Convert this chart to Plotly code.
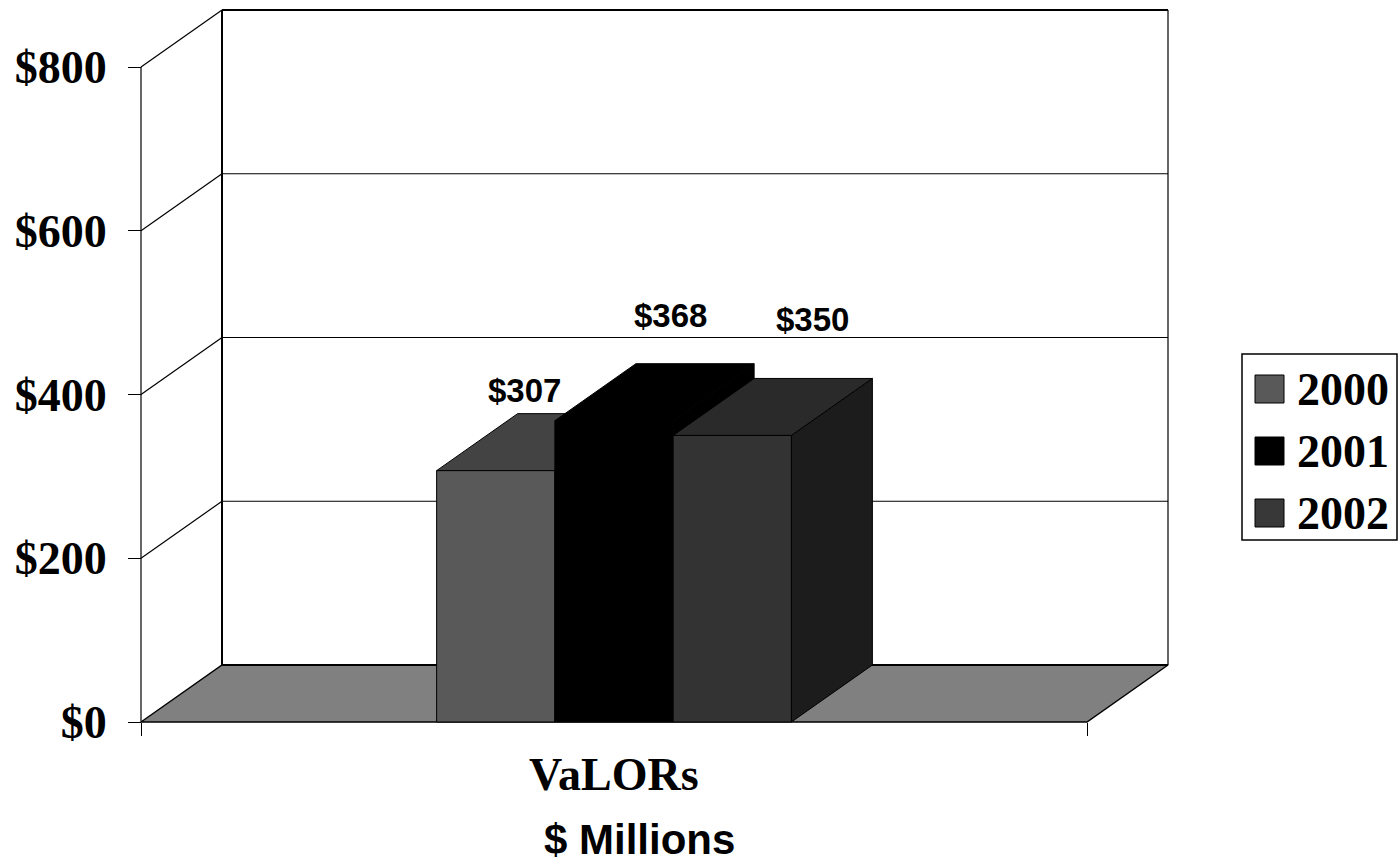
import plotly.graph_objects as go

# ---------------- data ----------------
categories = ["VaLORs"]
years = ["2000", "2001", "2002"]
values = [307, 368, 350]
value_labels = ["$307", "$368", "$350"]
tick_values = [0, 200, 400, 600, 800]
tick_labels = ["$0", "$200", "$400", "$600", "$800"]
axis_title = "$ Millions"

# ---------------- style ----------------
front_colors = ["#595959", "#000000", "#333333"]
top_colors = ["#434343", "#000000", "#2a2a2a"]
side_colors = ["#303030", "#000000", "#1c1c1c"]
legend_colors = ["#595959", "#000000", "#383838"]
floor_color = "#808080"
SERIF = "Liberation Serif, Times New Roman, serif"
SANS = "Liberation Sans, Arial, sans-serif"

W, H = 1399, 865
# pixel geometry of the reference
X_FRONT_L, X_FRONT_R = 141, 1087
Y_ZERO, Y_TOP_TICK = 722, 67
DEPTH_PX_X, DEPTH_PX_Y = 81, 57
PLOT_L, PLOT_R, PLOT_T, PLOT_B = 137, 1172, 6, 726

ppu_y = (Y_ZERO - Y_TOP_TICK) / tick_values[-1]
ppu_x = X_FRONT_R - X_FRONT_L  # one category spans the front axis
dx = DEPTH_PX_X / ppu_x
dy = DEPTH_PX_Y / ppu_y
x_range = [-0.5 - (X_FRONT_L - PLOT_L) / ppu_x, -0.5 + (PLOT_R - X_FRONT_L) / ppu_x]
y_range = [-(PLOT_B - Y_ZERO) / ppu_y, (Y_ZERO - PLOT_T) / ppu_y]
plot_w = PLOT_R - PLOT_L
plot_h = PLOT_B - PLOT_T


def px_x(p):
    return (p - PLOT_L) / plot_w


def px_y(p):
    return (PLOT_B - p) / plot_h


fig = go.Figure()


def poly(xs, ys, fill, lw=1):
    fig.add_trace(go.Scatter(
        x=list(xs) + [xs[0]], y=list(ys) + [ys[0]], mode="lines",
        fill="toself", fillcolor=fill, line=dict(color="black", width=lw),
        hoverinfo="skip", showlegend=False))


def seg(x0, y0, x1, y1, lw=1):
    fig.add_trace(go.Scatter(
        x=[x0, x1], y=[y0, y1], mode="lines",
        line=dict(color="black", width=lw), hoverinfo="skip", showlegend=False))


xl_cat, xr_cat = -0.5, 0.5
vmax = tick_values[-1]

# walls: back gridlines and left-wall diagonals
for v in tick_values[1:]:
    seg(xl_cat + dx, v + dy, xr_cat + dx, v + dy, 2 if v == vmax else 1.2)
    seg(xl_cat, v, xl_cat + dx, v + dy, 1.2)
seg(xl_cat + dx, dy, xl_cat + dx, vmax + dy, 2)
seg(xr_cat + dx, dy, xr_cat + dx, vmax + dy, 1.2)
seg(xl_cat, 0, xl_cat, vmax, 1.2)

# floor
poly([xl_cat, xr_cat, xr_cat + dx, xl_cat + dx], [0, 0, dy, dy], floor_color, 1.5)
seg(xl_cat + dx, dy, xr_cat + dx, dy, 2)

# bars (painter's order, left to right)
bar_w = 0.125
n = len(values)
group_left = -bar_w * n / 2
for i, v in enumerate(values):
    xl = group_left + i * bar_w
    xr = xl + bar_w
    poly([xr, xr + dx, xr + dx, xr], [0, dy, v + dy, v], side_colors[i])
    poly([xl, xr, xr + dx, xl + dx], [v, v, v + dy, v + dy], top_colors[i])
    poly([xl, xr, xr, xl], [0, 0, v, v], front_colors[i])

annotations = []
# value labels (Excel 3-D placement offsets in px)
label_dx = [29, 56, 80]
label_dy = [80, 105, 116]
for i, v in enumerate(values):
    xc = group_left + i * bar_w + bar_w / 2
    annotations.append(dict(
        x=xc, y=v, xref="x", yref="y", text="<b>%s</b>" % value_labels[i], showarrow=False,
        xshift=label_dx[i], yshift=label_dy[i], xanchor="center", yanchor="middle",
        font=dict(family=SANS, size=33, color="black")))

# category label and axis title
annotations.append(dict(
    x=0, y=px_y(774), xref="x", yref="paper", text="<b>%s</b>" % categories[0],
    showarrow=False, xanchor="center", yanchor="middle",
    font=dict(family=SERIF, size=46, color="black")))
annotations.append(dict(
    x=px_x(639), y=px_y(840), xref="paper", yref="paper", text="<b>%s</b>" % axis_title,
    showarrow=False, xanchor="center", yanchor="middle",
    font=dict(family=SANS, size=42, color="black")))

# legend (drawn manually)
shapes = [dict(type="rect", xref="paper", yref="paper",
               x0=px_x(1242), x1=px_x(1397), y0=px_y(540), y1=px_y(354),
               line=dict(color="black", width=1.5), fillcolor="white")]
row_y = [389, 451, 513]
for i, yr in enumerate(years):
    shapes.append(dict(type="rect", xref="paper", yref="paper",
                       x0=px_x(1255), x1=px_x(1284), y0=px_y(row_y[i] + 14), y1=px_y(row_y[i] - 14),
                       line=dict(color="black", width=1), fillcolor=legend_colors[i]))
    annotations.append(dict(
        x=px_x(1295), y=px_y(row_y[i]), xref="paper", yref="paper", text="<b>%s</b>" % yr,
        showarrow=False, xanchor="left", yanchor="middle",
        font=dict(family=SERIF, size=46, color="black")))

fig.update_layout(
    width=W, height=H,
    margin=dict(l=PLOT_L, r=W - PLOT_R, t=PLOT_T, b=H - PLOT_B, pad=0),
    paper_bgcolor="white", plot_bgcolor="white",
    showlegend=False,
    shapes=shapes, annotations=annotations,
    xaxis=dict(range=x_range, showgrid=False, zeroline=False, showline=False,
               tickvals=[xl_cat, xr_cat], ticktext=["", ""], ticks="outside",
               ticklen=13, tickwidth=1.2, tickcolor="black",
               anchor="free", position=px_y(Y_ZERO)),
    yaxis=dict(range=y_range, showgrid=False, zeroline=False, showline=False,
               tickvals=tick_values, ticktext=["<b>%s</b>" % t for t in tick_labels],
               ticks="outside", ticklen=13, tickwidth=1.2, tickcolor="black",
               ticklabelstandoff=12,
               tickfont=dict(family=SERIF, size=46, color="black"),
               anchor="free", position=px_x(X_FRONT_L)),
)

fig.write_html("out.html", config={"displayModeBar": False},
               post_script="document.body.style.margin='0px';")
